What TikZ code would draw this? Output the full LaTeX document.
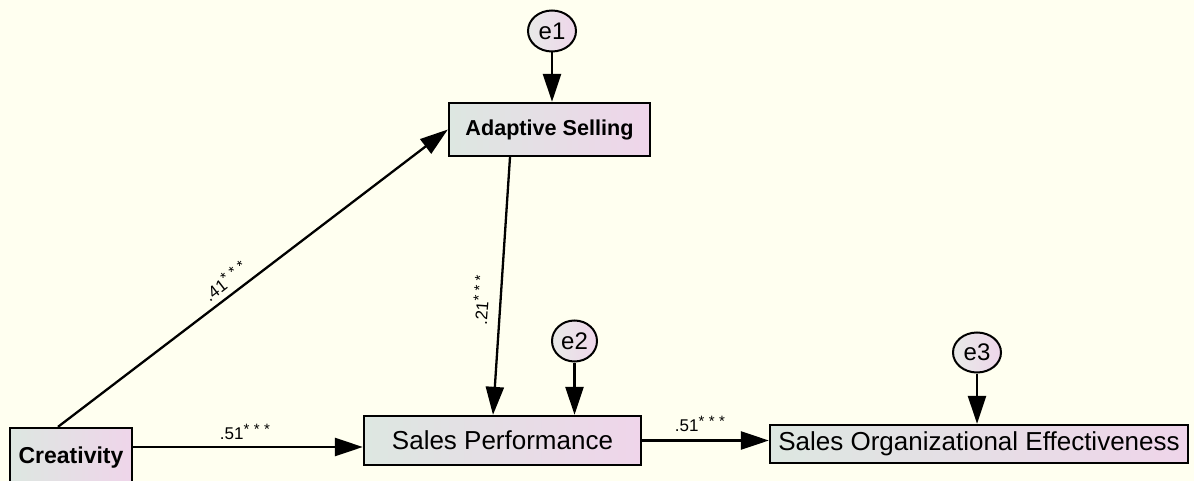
\documentclass[tikz,border=0pt]{standalone}
\usepackage{fontspec}
\setmainfont{Liberation Sans}
\usetikzlibrary{arrows.meta,shapes.geometric}
\definecolor{paper}{RGB}{255,255,240}
\definecolor{boxleft}{RGB}{221,231,225}
\definecolor{boxright}{RGB}{239,213,234}
\definecolor{errleft}{RGB}{232,234,232}
\definecolor{errright}{RGB}{238,214,234}
% significance marks, set small and raised above the digits
\newcommand{\sigstars}{\raisebox{5pt}{\fontsize{15}{15}\selectfont *\hspace{4.5pt}*\hspace{4.5pt}*}}
\tikzset{
  obs/.style={draw=black, line width=2.3pt, left color=boxleft, right color=boxright,
              inner sep=0pt, font=\fontsize{26}{26}\selectfont},
  err/.style={ellipse, draw=black, line width=2pt, left color=errleft, right color=errright,
              inner sep=0pt, font=\fontsize{24}{24}\selectfont},
  regr/.style={line width=2.3pt, -{Triangle[length=28pt,width=18pt]}},
  coef/.style={font=\fontsize{17}{17}\selectfont, inner sep=0pt}
}
\begin{document}
\begin{tikzpicture}[x=1pt,y=-1pt]
  \useasboundingbox (0,0) rectangle (1194,481);
  \clip (0,0) rectangle (1194,481);
  \fill[paper] (0,0) rectangle (1194,481);

  % observed variables
  \node[obs, minimum width=122pt, minimum height=60pt, font=\fontsize{23}{23}\selectfont\bfseries]
    (cre) at (71,458) {Creativity};
  \node[obs, minimum width=201pt, minimum height=53pt, font=\fontsize{21.6}{21.6}\selectfont\bfseries]
    (ads) at (549.5,129.5) {Adaptive Selling};
  \node[obs, minimum width=277pt, minimum height=49pt] (spf) at (502.5,440.5) {Sales Performance};
  \node[obs, minimum width=418pt, minimum height=38pt] (soe) at (979,444) {Sales Organizational Effectiveness};

  % error terms
  \node[err, minimum width=48pt, minimum height=41pt] (e1) at (552,31) {e1};
  \node[err, minimum width=45pt, minimum height=41pt] (e2) at (574.5,341) {e2};
  \node[err, minimum width=48pt, minimum height=40pt] (e3) at (977,352.5) {e3};

  % structural paths
  \draw[regr] ([xshift=-13pt]cre.north) -- (ads.west);
  \draw[regr] ([yshift=11pt]cre.east) -- ([yshift=11pt]cre.east -| spf.west);
  \draw[regr] ([xshift=-39.5pt]ads.south) -- ([xshift=-9.5pt]spf.north);
  \draw[regr] (spf.east) -- (spf.east -| soe.west);

  % residual paths
  \draw[regr] (e1.south) -- (e1.south |- ads.north);
  \draw[regr] (e2.south) -- (e2.south |- spf.north);
  \draw[regr] (e3.south) -- (e3.south |- soe.north);

  % coefficients
  \node[coef, rotate=37.5] (c41) at (225,281) {.41\sigstars};
  \node[coef, rotate=86] (c21) at (481,300) {.21\sigstars};
  \node[coef] (c51a) at (245,432) {.51\sigstars};
  \node[coef] (c51b) at (700,424) {.51\sigstars};
\end{tikzpicture}
\end{document}
